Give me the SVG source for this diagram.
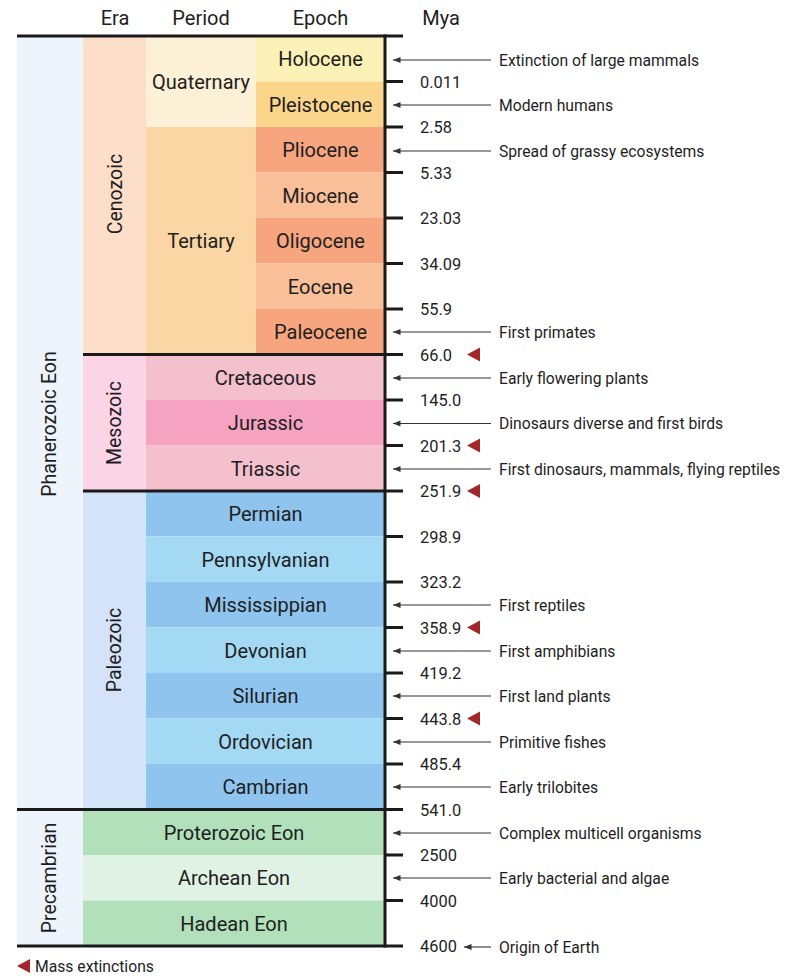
<svg xmlns="http://www.w3.org/2000/svg" width="801" height="976" viewBox="0 0 801 976">
<style>
text{font-family:Roboto,"Liberation Sans",sans-serif;fill:#1e1e1e}
.h{font-size:20px;text-anchor:middle}
.c{font-size:20px;text-anchor:middle}
.v{font-size:19.5px;text-anchor:middle}
.t{font-size:16.4px}
.e{font-size:15.7px}
.bl{stroke:#1a1a1a;stroke-width:3;fill:none}
.ar{stroke:#333;stroke-width:1.1;fill:none;marker-end:url(#ah)}
.mx{fill:#a3262a}
</style>
<defs>
<marker id="ah" markerUnits="userSpaceOnUse" markerWidth="8" markerHeight="7" refX="7.5" refY="3.5" orient="auto">
<path d="M0,0.5 L7.5,3.5 L0,6.5 z" fill="#333"/>
</marker>
<path id="tri" d="M0,0 L13,-7 L13,7 z"/>
</defs>

<!-- headers -->
<g id="headers">
<text class="h" x="115" y="24.5">Era</text>
<text class="h" x="201" y="24.5">Period</text>
<text class="h" x="320.5" y="24.5">Epoch</text>
<text class="h" x="441" y="24.5">Mya</text>
</g>

<!-- eons -->
<g id="phanerozoic">
<rect x="17" y="36" width="66" height="773.5" fill="#eef4fc"/>
<text class="v" transform="translate(56,424) rotate(-90)">Phanerozoic Eon</text>
</g>
<g id="precambrian">
<rect x="17" y="809.5" width="66" height="136.5" fill="#eef4fc"/>
<text class="v" transform="translate(56,878) rotate(-90)">Precambrian</text>
</g>

<!-- eras -->
<g id="cenozoic">
<rect x="83" y="36" width="63" height="318.5" fill="#fddec8"/>
<text class="v" transform="translate(122,194) rotate(-90)">Cenozoic</text>
</g>
<g id="mesozoic">
<rect x="83" y="354.5" width="63" height="136.5" fill="#fbd5e6"/>
<text class="v" transform="translate(121,423) rotate(-90)">Mesozoic</text>
</g>
<g id="paleozoic">
<rect x="83" y="491" width="63" height="318.5" fill="#d5e3f8"/>
<text class="v" transform="translate(121,650) rotate(-90)">Paleozoic</text>
</g>

<!-- Cenozoic periods -->
<g id="quaternary">
<rect x="146" y="36" width="110" height="91" fill="#fcf0d6"/>
<text class="c" x="201" y="89">Quaternary</text>
</g>
<g id="tertiary">
<rect x="146" y="127" width="110" height="227.5" fill="#f9d6a3"/>
<text class="c" x="201" y="248">Tertiary</text>
</g>

<!-- epochs -->
<g id="holocene"><rect x="256" y="36" width="129" height="45.5" fill="#fbf0b5"/><text class="c" x="320.5" y="66">Holocene</text></g>
<g id="pleistocene"><rect x="256" y="81.5" width="129" height="45.5" fill="#fad58b"/><text class="c" x="320.5" y="111.5">Pleistocene</text></g>
<g id="pliocene"><rect x="256" y="127" width="129" height="45.5" fill="#f6a57f"/><text class="c" x="320.5" y="157">Pliocene</text></g>
<g id="miocene"><rect x="256" y="172.5" width="129" height="45.5" fill="#f9bf99"/><text class="c" x="320.5" y="202.5">Miocene</text></g>
<g id="oligocene"><rect x="256" y="218" width="129" height="45.5" fill="#f6a57f"/><text class="c" x="320.5" y="248">Oligocene</text></g>
<g id="eocene"><rect x="256" y="263.5" width="129" height="45.5" fill="#f9bf99"/><text class="c" x="320.5" y="293.5">Eocene</text></g>
<g id="paleocene"><rect x="256" y="309" width="129" height="45.5" fill="#f6a57f"/><text class="c" x="320.5" y="339">Paleocene</text></g>

<!-- Mesozoic periods -->
<g id="cretaceous"><rect x="146" y="354.5" width="239" height="45.5" fill="#f5c0ce"/><text class="c" x="265.5" y="384.5">Cretaceous</text></g>
<g id="jurassic"><rect x="146" y="400" width="239" height="45.5" fill="#f6a3c1"/><text class="c" x="265.5" y="430">Jurassic</text></g>
<g id="triassic"><rect x="146" y="445.5" width="239" height="45.5" fill="#f5c0ce"/><text class="c" x="265.5" y="475.5">Triassic</text></g>

<!-- Paleozoic periods -->
<g id="permian"><rect x="146" y="491" width="239" height="45.5" fill="#8ec4ee"/><text class="c" x="265.5" y="521">Permian</text></g>
<g id="pennsylvanian"><rect x="146" y="536.5" width="239" height="45.5" fill="#a4d9f4"/><text class="c" x="265.5" y="566.5">Pennsylvanian</text></g>
<g id="mississippian"><rect x="146" y="582" width="239" height="45.5" fill="#8ec4ee"/><text class="c" x="265.5" y="612">Mississippian</text></g>
<g id="devonian"><rect x="146" y="627.5" width="239" height="45.5" fill="#a4d9f4"/><text class="c" x="265.5" y="657.5">Devonian</text></g>
<g id="silurian"><rect x="146" y="673" width="239" height="45.5" fill="#8ec4ee"/><text class="c" x="265.5" y="703">Silurian</text></g>
<g id="ordovician"><rect x="146" y="718.5" width="239" height="45.5" fill="#a4d9f4"/><text class="c" x="265.5" y="748.5">Ordovician</text></g>
<g id="cambrian"><rect x="146" y="764" width="239" height="45.5" fill="#8ec4ee"/><text class="c" x="265.5" y="794">Cambrian</text></g>

<!-- Precambrian eons -->
<g id="proterozoic"><rect x="83" y="809.5" width="302" height="45.5" fill="#b2e0ba"/><text class="c" x="234" y="839.5">Proterozoic Eon</text></g>
<g id="archean"><rect x="83" y="855" width="302" height="45.5" fill="#dff2e3"/><text class="c" x="234" y="885">Archean Eon</text></g>
<g id="hadean"><rect x="83" y="900.5" width="302" height="45.5" fill="#b2e0ba"/><text class="c" x="234" y="930.5">Hadean Eon</text></g>

<!-- frame lines and axis -->
<g id="axis">
<line class="bl" x1="17" y1="36" x2="403" y2="36"/>
<line class="bl" x1="83" y1="354.5" x2="403" y2="354.5"/>
<line class="bl" x1="83" y1="491" x2="403" y2="491"/>
<line class="bl" x1="17" y1="809.5" x2="403" y2="809.5"/>
<line class="bl" x1="17" y1="946" x2="403" y2="946"/>
<line class="bl" x1="385" y1="34.5" x2="385" y2="947.5"/>
<path class="bl" d="M385,81.5H403M385,127H403M385,172.5H403M385,218H403M385,263.5H403M385,309H403M385,400H403M385,445.5H403M385,536.5H403M385,582H403M385,627.5H403M385,673H403M385,718.5H403M385,764H403M385,855H403M385,900.5H403"/>
</g>

<!-- tick labels -->
<g id="mya">
<text class="t" x="420" y="87.5">0.011</text>
<text class="t" x="420" y="133">2.58</text>
<text class="t" x="420" y="178.5">5.33</text>
<text class="t" x="420" y="224">23.03</text>
<text class="t" x="420" y="269.5">34.09</text>
<text class="t" x="420" y="315">55.9</text>
<text class="t" x="420" y="360.5">66.0</text>
<text class="t" x="420" y="406">145.0</text>
<text class="t" x="420" y="451.5">201.3</text>
<text class="t" x="420" y="497">251.9</text>
<text class="t" x="420" y="542.5">298.9</text>
<text class="t" x="420" y="588">323.2</text>
<text class="t" x="420" y="633.5">358.9</text>
<text class="t" x="420" y="679">419.2</text>
<text class="t" x="420" y="724.5">443.8</text>
<text class="t" x="420" y="770">485.4</text>
<text class="t" x="420" y="815.5">541.0</text>
<text class="t" x="420" y="861">2500</text>
<text class="t" x="420" y="906.5">4000</text>
<text class="t" x="420" y="952">4600</text>
</g>

<!-- mass extinction markers -->
<g id="extinctions" class="mx">
<use href="#tri" x="467" y="354.5"/>
<use href="#tri" x="467" y="445.5"/>
<use href="#tri" x="467" y="491"/>
<use href="#tri" x="467" y="627.5"/>
<use href="#tri" x="467" y="718.5"/>
</g>

<!-- connectors -->
<g id="connectors">
<line class="ar" x1="491" y1="60" x2="393" y2="60"/>
<line class="ar" x1="491" y1="105" x2="393" y2="105"/>
<line class="ar" x1="491" y1="151" x2="393" y2="151"/>
<line class="ar" x1="491" y1="332" x2="393" y2="332"/>
<line class="ar" x1="491" y1="378" x2="393" y2="378"/>
<line class="ar" x1="491" y1="423.5" x2="393" y2="423.5"/>
<line class="ar" x1="491" y1="469" x2="393" y2="469"/>
<line class="ar" x1="491" y1="605" x2="393" y2="605"/>
<line class="ar" x1="491" y1="651" x2="393" y2="651"/>
<line class="ar" x1="491" y1="696" x2="393" y2="696"/>
<line class="ar" x1="491" y1="742" x2="393" y2="742"/>
<line class="ar" x1="491" y1="787" x2="393" y2="787"/>
<line class="ar" x1="491" y1="833" x2="393" y2="833"/>
<line class="ar" x1="491" y1="878" x2="393" y2="878"/>
<line class="ar" x1="491" y1="947" x2="464" y2="947"/>
</g>

<!-- event labels -->
<g id="events">
<text class="e" x="499" y="65.5">Extinction of large mammals</text>
<text class="e" x="499" y="110.5">Modern humans</text>
<text class="e" x="499" y="156.5">Spread of grassy ecosystems</text>
<text class="e" x="499" y="337.5">First primates</text>
<text class="e" x="499" y="383.5">Early flowering plants</text>
<text class="e" x="499" y="429">Dinosaurs diverse and first birds</text>
<text class="e" x="499" y="474.5">First dinosaurs, mammals, flying reptiles</text>
<text class="e" x="499" y="610.5">First reptiles</text>
<text class="e" x="499" y="656.5">First amphibians</text>
<text class="e" x="499" y="701.5">First land plants</text>
<text class="e" x="499" y="747.5">Primitive fishes</text>
<text class="e" x="499" y="792.5">Early trilobites</text>
<text class="e" x="499" y="838.5">Complex multicell organisms</text>
<text class="e" x="499" y="883.5">Early bacterial and algae</text>
<text class="e" x="499" y="952.5">Origin of Earth</text>
</g>

<!-- legend -->
<g id="legend">
<use href="#tri" x="17" y="966" class="mx"/>
<text class="e" x="35" y="971.5">Mass extinctions</text>
</g>
</svg>
